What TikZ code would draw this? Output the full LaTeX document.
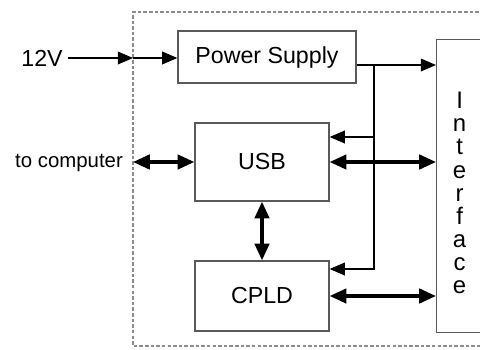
\documentclass[tikz,border=0pt]{standalone}
\usepackage{fontspec}
\setmainfont{Liberation Sans}
\usetikzlibrary{arrows.meta,positioning}

\begin{document}
\begin{tikzpicture}[x=0.025cm, y=-0.025cm, font=\fontsize{16.5}{19.8}\selectfont, box/.style={draw=black!65, line width=0.9pt, minimum width=3.35cm}, arr/.style={-{Triangle[length=0.38cm, width=0.32cm]}, line width=0.8pt}, dbl/.style={{Triangle[length=0.42cm, width=0.36cm]}-{Triangle[length=0.42cm, width=0.36cm]}, line width=2.4pt}]
\useasboundingbox (0,0) rectangle (480,349);
% board outline
\draw[black!45, line width=0.8pt, dash pattern=on 2.5pt off 1.5pt] (490,12) -- (133,12) -- (133,346) -- (490,346);
\node[box, minimum width=4.45cm, minimum height=1.3cm] (ps) at (267,57) {Power Supply};
\node[box, minimum height=1.95cm] (usb) at (262,162) {USB};
\node[box, minimum height=1.75cm] (cpld) at (262,296) {CPLD};
\node[box, minimum width=1.15cm, minimum height=7.325cm, anchor=north west, align=center, font=\fontsize{17}{16.4}\selectfont] (intf) at (436,39) {\rule{0pt}{0.75cm}I\\n\\t\\e\\r\\f\\a\\c\\e};
\node (v12) at (42,58) {12V};
\node[font=\fontsize{14.5}{17}\selectfont] (pc) at (69,163) {to computer};
\coordinate (pin) at (133,58);
\coordinate (usbin) at (133,162);
\coordinate (tap) at (374,65);
% power
\draw[arr] (v12) -- (pin);
\draw[arr] (pin) -- (ps.west |- pin);
\draw[arr] (ps.east |- tap) -- (intf.west |- tap);
\draw[arr] (tap) |- (cpld.east |- 0,269);
\draw[arr] (tap |- 0,137) -- (usb.east |- 0,137);
% data
\draw[dbl] (usbin) -- (usb.west);
\draw[dbl] (usb.east) -- (usb.east -| intf.west);
\draw[dbl] (cpld.east) -- (cpld.east -| intf.west);
\draw[dbl] (usb.south) -- (cpld.north);
\end{tikzpicture}
\end{document}
